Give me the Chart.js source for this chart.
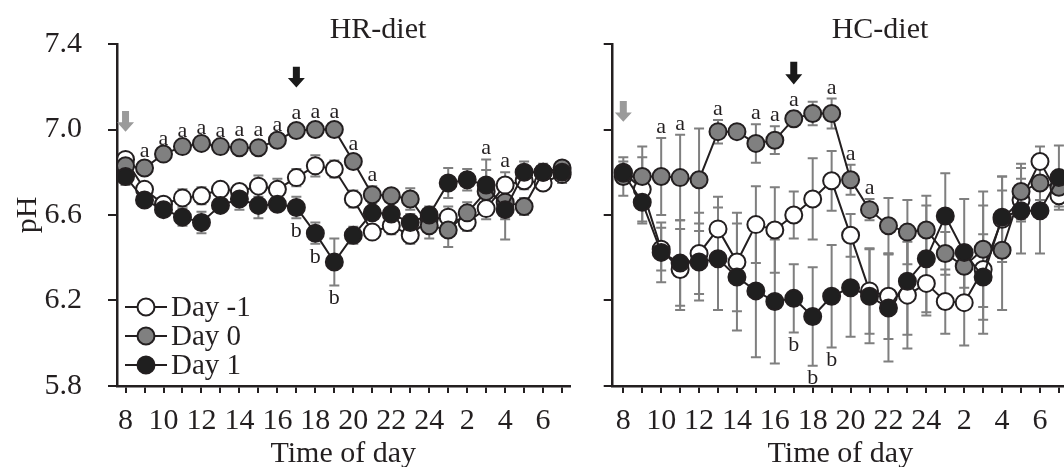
<!DOCTYPE html>
<html><head><meta charset="utf-8">
<script src="https://cdn.jsdelivr.net/npm/chart.js@4.4.0/dist/chart.umd.min.js"></script>
<style>
html,body{margin:0;padding:0;background:#fff;overflow:hidden;width:1064px;height:467px;}
#wrap{position:relative;width:1064px;height:467px;overflow:hidden;background:#fff;}
#c1{position:absolute;left:0;top:0;}
#c2{position:absolute;left:580px;top:0;}
</style></head><body>
<div id="wrap"><canvas id="c1" width="580" height="467"></canvas><canvas id="c2" width="500" height="467"></canvas></div>
<script>
// ---- data ----
const hours = [8,9,10,11,12,13,14,15,16,17,18,19,20,21,22,23,24,1,2,3,4,5,6,7];
const yTicks = [5.8, 6.2, 6.6, 7.0, 7.4];
const seriesNames = ['Day -1', 'Day 0', 'Day 1'];

// HR-diet
const hrDayM1 = [6.86,6.72,6.65,6.68,6.69,6.72,6.71,6.735,6.72,6.775,6.83,6.815,6.675,6.52,6.55,6.505,6.58,6.59,6.565,6.63,6.74,6.76,6.75,6.79];
const hrDay0  = [6.83,6.82,6.885,6.92,6.935,6.92,6.915,6.915,6.95,6.995,7.0,7.0,6.85,6.695,6.69,6.675,6.55,6.53,6.61,6.71,6.66,6.64,6.80,6.82];
const hrDay1  = [6.78,6.67,6.625,6.59,6.565,6.645,6.675,6.645,6.65,6.635,6.515,6.38,6.505,6.61,6.605,6.565,6.60,6.75,6.765,6.74,6.625,6.80,6.80,6.80];
const hrErrM1 = [0.02,0.03,0.03,0.04,0.04,0.03,0.03,0.05,0.05,0.04,0.05,0.04,0.04,0.03,0.04,0.04,0.05,0.05,0.04,0.05,0.06,0.04,0.03,0.04];
const hrErr0  = [0.02,0.03,0.02,0.02,0.02,0.02,0.03,0.03,0.02,0.03,0.03,0.03,0.03,0.04,0.03,0.05,0.06,0.08,0.05,0.10,0.08,0.04,0.03,0.03];
const hrErr1  = [0.04,0.02,0.03,0.04,0.05,0.03,0.05,0.06,0.03,0.05,0.05,0.11,0.04,0.03,0.03,0.04,0.04,0.07,0.05,0.12,0.14,0.05,0.04,0.04];
const hrSigA  = ['','a','a','a','a','a','a','a','a','a','a','a','a','a','','','','','','a','a','','',''];
const hrSigB  = ['','','','','','','','','','b','b','b','','','','','','','','','','','',''];

// HC-diet
const hcDayM1 = [6.80,6.72,6.44,6.345,6.42,6.535,6.38,6.555,6.53,6.60,6.675,6.76,6.505,6.245,6.22,6.225,6.28,6.195,6.19,6.345,6.58,6.67,6.85,6.69];
const hcDay0  = [6.78,6.78,6.78,6.775,6.765,6.99,6.99,6.935,6.95,7.05,7.075,7.075,6.765,6.625,6.55,6.52,6.53,6.42,6.36,6.44,6.435,6.71,6.75,6.73];
const hcDay1  = [6.795,6.66,6.425,6.375,6.38,6.395,6.31,6.245,6.195,6.21,6.125,6.22,6.26,6.22,6.165,6.29,6.395,6.595,6.425,6.31,6.59,6.62,6.62,6.775];
const hcErrM1 = [0.05,0.15,0.10,0.19,0.19,0.15,0.23,0.18,0.20,0.11,0.19,0.14,0.10,0.20,0.20,0.25,0.15,0.15,0.20,0.30,0.20,0.10,0.07,0.05];
const hcErr0  = [0.09,0.14,0.18,0.20,0.24,0.055,0.02,0.09,0.065,0.035,0.055,0.07,0.07,0.05,0.13,0.15,0.16,0.10,0.10,0.27,0.28,0.13,0.08,0.05];
const hcErr1  = [0.03,0.10,0.14,0.20,0.18,0.24,0.25,0.31,0.29,0.16,0.23,0.24,0.23,0.22,0.25,0.25,0.25,0.20,0.25,0.20,0.19,0.20,0.20,0.15];
const hcSigA  = ['','','a','a','','a','','a','a','a','','a','a','a','','','','','','','','','',''];
const hcSigB  = ['','','','','','','','','','b','b','b','','','','','','','','','','','',''];

// arrows: [hour index, top pH, tip pH, colour]
const hrArrows = [[0, 7.087, 6.99, '#9a9a9a'], [9, 7.294, 7.197, '#1a1a1a']];
const hcArrows = [[0, 7.133, 7.036, '#9a9a9a'], [9, 7.317, 7.211, '#1a1a1a']];

// ---- styling ----
const FF = "'Liberation Serif','DejaVu Serif',serif";
const INK = '#231f20';
const fills = ['#ffffff', '#808080', '#1f1f1f'];

const errorBarPlugin = {
  id: 'errbars',
  beforeDatasetsDraw(chart) {
    const {ctx, scales: {x, y}} = chart;
    ctx.save();
    ctx.strokeStyle = '#7f7f7f'; ctx.lineWidth = 2;
    chart.data.datasets.forEach(ds => {
      ds.data.forEach((p, i) => {
        const e = ds.errors[i];
        const px = x.getPixelForValue(p.x);
        const t = y.getPixelForValue(p.y + e), b = y.getPixelForValue(p.y - e);
        ctx.beginPath();
        ctx.moveTo(px, t); ctx.lineTo(px, b);
        ctx.moveTo(px - 5, t); ctx.lineTo(px + 5, t);
        ctx.moveTo(px - 5, b); ctx.lineTo(px + 5, b);
        ctx.stroke();
      });
    });
    ctx.restore();
  }
};

const annotPlugin = {
  id: 'annot',
  afterDatasetsDraw(chart, args, opts) {
    const {ctx, scales: {x, y}} = chart;
    const dss = chart.data.datasets;
    ctx.save();
    ctx.fillStyle = INK;
    ctx.font = '22px ' + FF;
    ctx.textAlign = 'center';
    // significance letters: above the highest bar / below the lowest bar at that hour
    hours.forEach((h, i) => {
      const px = x.getPixelForValue(i);
      if (opts.sigA && opts.sigA[i]) {
        const top = Math.max(...dss.map(d => d.data[i].y + d.errors[i]));
        ctx.textBaseline = 'alphabetic';
        ctx.fillText(opts.sigA[i], px, y.getPixelForValue(top) - 5);
      }
      if (opts.sigB && opts.sigB[i]) {
        const d1 = dss[2];
        ctx.textBaseline = 'top';
        ctx.fillText(opts.sigB[i], px, y.getPixelForValue(d1.data[i].y - d1.errors[i]) + 2);
      }
    });
    (opts.arrows || []).forEach(a => {
      const px = x.getPixelForValue(a[0]);
      const top = y.getPixelForValue(a[1]), tip = y.getPixelForValue(a[2]);
      const headH = (tip - top) * 0.45;
      ctx.fillStyle = a[3];
      ctx.beginPath();
      ctx.moveTo(px - 3.5, top); ctx.lineTo(px + 3.5, top);
      ctx.lineTo(px + 3.5, tip - headH); ctx.lineTo(px + 8.5, tip - headH);
      ctx.lineTo(px, tip); ctx.lineTo(px - 8.5, tip - headH);
      ctx.lineTo(px - 3.5, tip - headH); ctx.closePath();
      ctx.fill();
    });
    if (opts.title) {
      ctx.fillStyle = INK;
      ctx.font = '30px ' + FF;
      ctx.textAlign = 'center';
      ctx.textBaseline = 'alphabetic';
      ctx.fillText(opts.title.text, opts.title.x, opts.title.y);
    }
    if (opts.legend) {
      const L = opts.legend;
      dss.forEach((ds, k) => {
        const cy = L.y + k * L.gap;
        ctx.strokeStyle = INK; ctx.lineWidth = 2;
        ctx.beginPath(); ctx.moveTo(L.x, cy); ctx.lineTo(L.x + 42, cy); ctx.stroke();
        ctx.beginPath(); ctx.arc(L.x + 21, cy, 8.5, 0, Math.PI * 2);
        ctx.fillStyle = ds.pointBackgroundColor; ctx.fill(); ctx.stroke();
        ctx.fillStyle = INK; ctx.font = '29px ' + FF;
        ctx.textAlign = 'left'; ctx.textBaseline = 'middle';
        ctx.fillText(ds.label, L.x + 46, cy + 1);
      });
    }
    ctx.restore();
  }
};

function makeDs(label, vals, errs, k) {
  return {
    label, data: vals.map((v, i) => ({x: i, y: v})), errors: errs,
    borderColor: INK, borderWidth: 2, tension: 0,
    pointRadius: 8.5, pointBorderWidth: 2, pointBorderColor: INK,
    pointBackgroundColor: fills[k], backgroundColor: fills[k],
    order: 2 - k, clip: false
  };
}

function makeChart(el, cfg) {
  const font = {family: FF, size: 30};
  return new Chart(el, {
    type: 'line',
    data: {datasets: cfg.datasets},
    options: {
      responsive: false, animation: false, devicePixelRatio: 1, events: [],
      layout: {padding: {top: 41, right: cfg.padRight, bottom: 0, left: 0}},
      scales: {
        x: {
          type: 'linear', min: cfg.xmin, max: cfg.xmax,
          afterBuildTicks: s => { s.ticks = hours.map((h, i) => ({value: i})); },
          afterFit: s => { s.height = 81; },
          ticks: {autoSkip: false, maxRotation: 0, padding: 10, color: INK, font,
            callback: (v, i) => (i % 2 === 0 ? String(hours[i]) : '')},
          grid: {drawOnChartArea: false, drawTicks: true, tickLength: 7, color: INK, lineWidth: 2},
          border: {display: true, color: INK, width: 2.5},
          title: {display: true, text: 'Time of day', color: INK, font, padding: {top: 0, bottom: -5}}
        },
        y: {
          min: 5.8, max: 7.4,
          afterBuildTicks: s => { s.ticks = yTicks.map(v => ({value: v})); },
          afterFit: s => { s.width = cfg.yWidth; },
          ticks: {padding: 26, color: INK, font,
            callback: v => (cfg.yLabels ? Number(v).toFixed(1) : '')},
          grid: {drawOnChartArea: false, drawTicks: true, tickLength: 9, color: INK, lineWidth: 2},
          border: {display: true, color: INK, width: 2.5},
          title: {display: cfg.yLabels, text: 'pH', color: INK, font, padding: {top: 10, bottom: 0}}
        }
      },
      plugins: {
        legend: {display: false}, tooltip: {enabled: false},
        annot: {arrows: cfg.arrows, title: cfg.title, legend: cfg.legend, sigA: cfg.sigA, sigB: cfg.sigB}
      }
    },
    plugins: [errorBarPlugin, annotPlugin]
  });
}

makeChart(document.getElementById('c1'), {
  datasets: [
    makeDs(seriesNames[0], hrDayM1, hrErrM1, 0),
    makeDs(seriesNames[1], hrDay0, hrErr0, 1),
    makeDs(seriesNames[2], hrDay1, hrErr1, 2)
  ],
  sigA: hrSigA, sigB: hrSigB,
  xmin: -0.45, xmax: 23.39, padRight: 10, yWidth: 117, yLabels: true,
  arrows: hrArrows,
  title: {text: 'HR-diet', x: 378, y: 38},
  legend: {x: 125, y: 307, gap: 29}
});

makeChart(document.getElementById('c2'), {
  datasets: [
    makeDs(seriesNames[0], hcDayM1, hcErrM1, 0),
    makeDs(seriesNames[1], hcDay0, hcErr0, 1),
    makeDs(seriesNames[2], hcDay1, hcErr1, 2)
  ],
  sigA: hcSigA, sigB: hcSigB,
  xmin: -0.56, xmax: 23.48, padRight: 12, yWidth: 32.7, yLabels: false,
  arrows: hcArrows,
  title: {text: 'HC-diet', x: 300, y: 38},
  legend: null
});
</script></body></html>
